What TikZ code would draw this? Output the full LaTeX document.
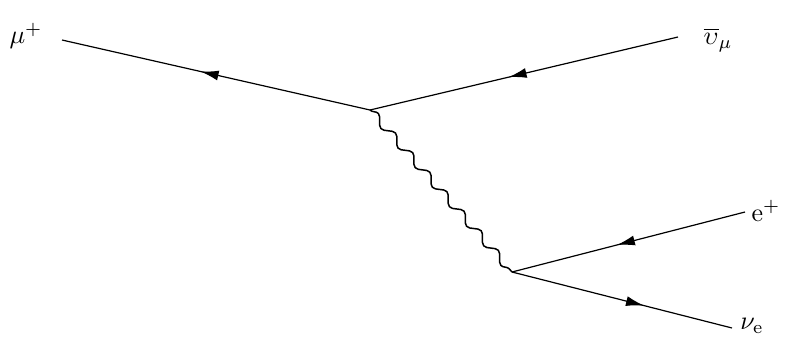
\documentclass[tikz,border=0pt]{standalone}
\usepackage{graphicx}
\usetikzlibrary{decorations.pathmorphing,decorations.markings,arrows.meta}
\newcommand{\biglab}[1]{\scalebox{2.6}{#1}}
\begin{document}
\begin{tikzpicture}[x=1pt,y=-1pt,
  fermion/.style={line width=1.2pt,postaction={decorate},decoration={markings,mark=at position #1 with {\arrow{Latex[length=18pt,width=10pt]}}}},
  boson/.style={line width=1.5pt,decorate,decoration={snake,segment length=26pt,amplitude=4pt}},
  lab/.style={inner sep=0pt}]
\useasboundingbox (0,0) rectangle (786,354);
\coordinate (v1) at (370,110);
\coordinate (v2) at (512,272);
\coordinate (mu) at (62,40);
\coordinate (nm) at (678,37);
\coordinate (ep) at (745,212);
\coordinate (ne) at (732,328);
\node[lab] (lmu) at (26,36) {\biglab{$\mu^{+}$}};
\node[lab] (lnm) at (718,40) {\biglab{$\overline{\upsilon}_{\mu}$}};
\node[lab] (lep) at (766,211) {\biglab{e$^{+}$}};
\node[lab] (lne) at (752,326) {\biglab{$\nu_{\mathrm{e}}$}};
\draw[fermion=0.55] (v1) -- (mu);
\draw[fermion=0.55] (nm) -- (v1);
\draw[fermion=0.55] (ep) -- (v2);
\draw[fermion=0.6] (v2) -- (ne);
\draw[boson] (v1) -- (v2);
\end{tikzpicture}
\end{document}
